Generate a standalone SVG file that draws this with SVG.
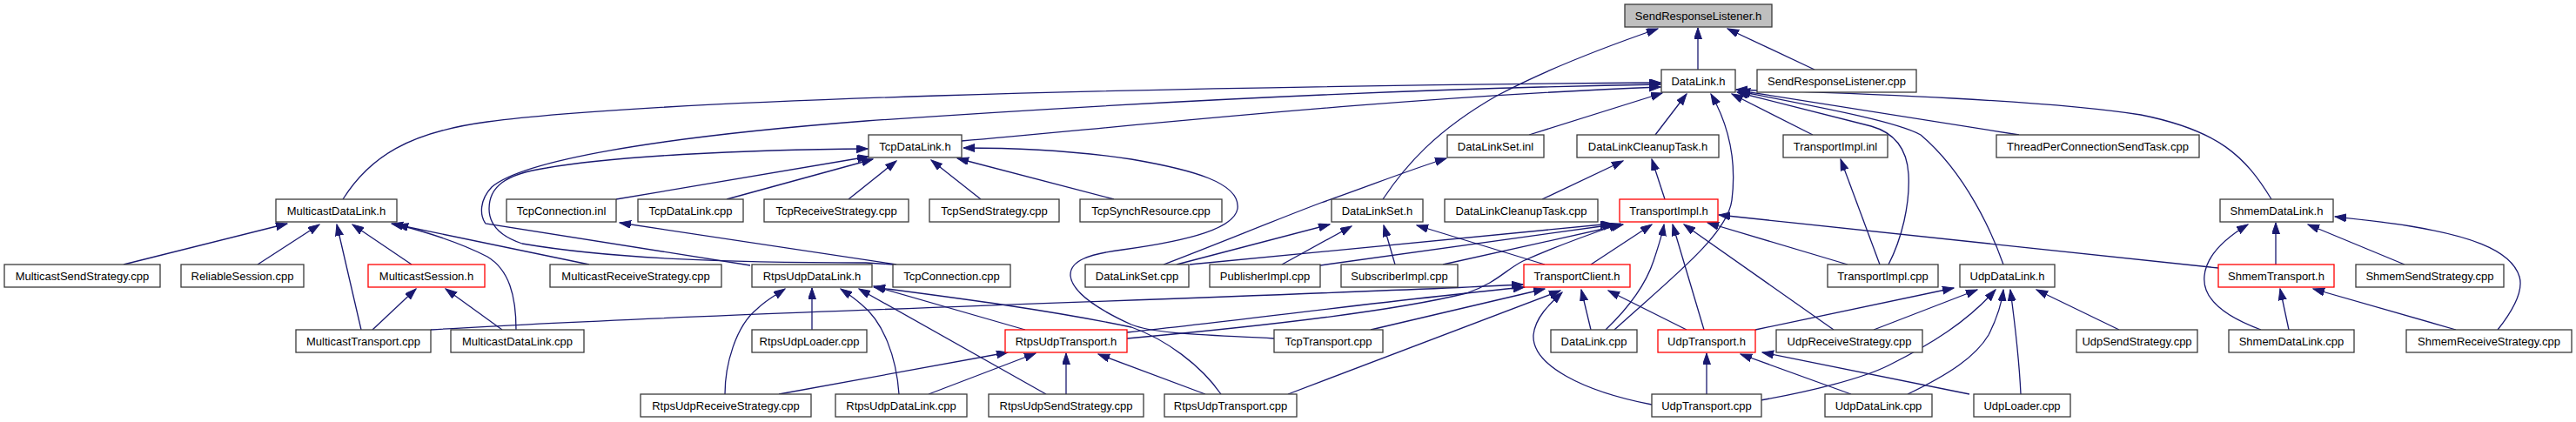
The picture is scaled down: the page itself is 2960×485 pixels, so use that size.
<svg xmlns="http://www.w3.org/2000/svg" width="2960" height="485" viewBox="0 0 2960 485">
<style>
.node rect{fill:#fff;stroke:#3a3a3a;stroke-width:1.3}
.node.red rect{stroke:#ff0000}
.node.root rect{fill:#bfbfbf}
.node text{font-family:"Liberation Sans",Arial,sans-serif;font-size:13px;fill:#000;text-anchor:middle}
#edges path{fill:none;stroke:#191970;stroke-width:1.3;marker-end:url(#ah)}
</style>
<defs>
<marker id="ah" markerUnits="userSpaceOnUse" markerWidth="14" markerHeight="10" refX="13" refY="4.5" orient="auto">
<path d="M0,0 L13,4.5 L0,9 z" fill="#191970" stroke="#191970" stroke-width="1"/>
</marker>
</defs>
<rect width="2960" height="485" fill="#fff"/>
<g id="edges">
<path d="M1951,80 L1951,32"/>
<path d="M2085,80 L1985,33"/>
<path d="M1589,229 C1615,190 1650,150 1720,110 C1780,78 1850,52 1905,33"/>
<path d="M394,229 C425,180 470,152 560,140 C750,115 1300,100 1908,95"/>
<path d="M862,305 L558,257 C551,247 551,230 565,215 C600,185 750,158 995,139 C1300,118 1600,102 1908,97"/>
<path d="M1105,162 C1300,145 1600,112 1908,100"/>
<path d="M1757,155 L1910,107"/>
<path d="M1902,155 L1938,108"/>
<path d="M1855,379 C1920,320 1985,270 1990,230 C1995,190 1990,150 1966,108"/>
<path d="M2083,155 L1990,108"/>
<path d="M2170,304 C2185,275 2195,235 2193,200 C2191,168 2175,152 2150,145 L1996,106"/>
<path d="M2302,304 C2290,270 2260,200 2207,155 C2180,140 2100,125 1998,105"/>
<path d="M2320,155 L1998,104"/>
<path d="M2610,229 C2580,180 2550,150 2460,132 C2350,115 2150,108 1995,103"/>
<path d="M708,229 L998,180"/>
<path d="M1026,304 L995,302 C830,302 700,297 600,280 C570,270 562,255 562,240 C562,215 580,200 628,193 C700,180 850,172 997,171"/>
<path d="M835,229 L1003,183"/>
<path d="M975,229 L1030,185"/>
<path d="M1127,229 L1070,184"/>
<path d="M1280,229 L1100,182"/>
<path d="M1464,389 C1400,385 1330,385 1300,373 C1260,355 1232,335 1230,317 C1229,300 1250,292 1290,287 C1370,276 1418,262 1422,240 C1426,210 1370,195 1300,183 C1240,174 1170,170 1107,170"/>
<path d="M1030,304 L712,256"/>
<path d="M142,304 L330,257"/>
<path d="M296,304 L367,258"/>
<path d="M415,379 L387,258"/>
<path d="M473,304 L405,258"/>
<path d="M677,304 L450,257"/>
<path d="M593,379 C593,340 585,310 560,295 C535,282 495,268 456,258"/>
<path d="M428,379 L478,332"/>
<path d="M577,379 L512,332"/>
<path d="M495,379 C800,360 1500,340 1750,327"/>
<path d="M833,453 C833,420 845,375 870,355 C880,345 890,340 902,332"/>
<path d="M933,379 L933,331"/>
<path d="M1033,453 C1030,410 1015,370 990,350 C982,343 975,338 966,332"/>
<path d="M1202,453 L987,332"/>
<path d="M1178,379 L1004,329"/>
<path d="M1403,453 C1380,420 1340,390 1300,376 C1200,355 1080,340 1004,330"/>
<path d="M895,453 L1158,405"/>
<path d="M1067,453 L1190,406"/>
<path d="M1225,453 L1225,406"/>
<path d="M1385,453 L1262,407"/>
<path d="M1295,382 C1450,365 1600,345 1752,330"/>
<path d="M1295,389 C1450,375 1600,358 1685,337 C1720,325 1730,310 1750,300 C1790,282 1830,268 1862,257"/>
<path d="M1575,379 L1775,332"/>
<path d="M1480,453 L1793,334"/>
<path d="M1775,304 L1628,259"/>
<path d="M1828,304 L1898,258"/>
<path d="M1828,379 L1817,333"/>
<path d="M1898,465 C1820,450 1760,420 1762,385 C1764,365 1780,350 1795,336"/>
<path d="M1938,379 L1848,334"/>
<path d="M1352,304 L1528,258"/>
<path d="M1473,304 L1553,260"/>
<path d="M1603,304 L1590,259"/>
<path d="M1337,304 C1400,280 1460,255 1518,233 C1570,215 1620,195 1662,182"/>
<path d="M1367,304 L1852,257"/>
<path d="M1517,305 L1855,258"/>
<path d="M1658,304 L1865,258"/>
<path d="M1845,379 C1870,355 1890,330 1900,300 C1905,285 1910,270 1912,258"/>
<path d="M1958,379 L1922,258"/>
<path d="M2107,379 L1935,258"/>
<path d="M2123,304 L1962,256"/>
<path d="M2549,308 L1975,247"/>
<path d="M1913,229 L1898,183"/>
<path d="M1772,229 L1865,185"/>
<path d="M2160,304 L2115,183"/>
<path d="M2017,379 L2245,331"/>
<path d="M2153,379 L2272,333"/>
<path d="M2023,460 C2080,450 2140,435 2170,420 C2220,395 2260,370 2293,333"/>
<path d="M2192,453 C2240,430 2270,410 2285,385 C2295,365 2300,350 2302,333"/>
<path d="M2322,453 C2320,410 2315,370 2310,333"/>
<path d="M2435,379 L2340,333"/>
<path d="M1961,453 L1961,406"/>
<path d="M2127,453 L2000,407"/>
<path d="M2263,453 L2025,405"/>
<path d="M2615,304 L2615,256"/>
<path d="M2598,379 C2560,365 2530,345 2533,317 C2535,295 2555,275 2583,258"/>
<path d="M2763,304 L2652,258"/>
<path d="M2870,379 C2885,360 2900,335 2895,318 C2885,285 2830,270 2770,260 C2740,255 2710,252 2683,249"/>
<path d="M2630,379 L2620,332"/>
<path d="M2822,379 L2658,332"/>
</g>
<g id="n1" class="node root"><rect x="1867" y="5" width="169" height="26"/><text x="1951.5" y="22.5">SendResponseListener.h</text></g>
<g id="n2" class="node"><rect x="1909" y="80" width="85" height="26"/><text x="1951.5" y="97.5">DataLink.h</text></g>
<g id="n3" class="node"><rect x="2019" y="80" width="183" height="26"/><text x="2110.5" y="97.5">SendResponseListener.cpp</text></g>
<g id="n4" class="node"><rect x="998" y="155" width="107" height="26"/><text x="1051.5" y="172.5">TcpDataLink.h</text></g>
<g id="n5" class="node"><rect x="1663" y="155" width="111" height="26"/><text x="1718.5" y="172.5">DataLinkSet.inl</text></g>
<g id="n6" class="node"><rect x="1812" y="155" width="163" height="26"/><text x="1893.5" y="172.5">DataLinkCleanupTask.h</text></g>
<g id="n7" class="node"><rect x="2049" y="155" width="120" height="26"/><text x="2109" y="172.5">TransportImpl.inl</text></g>
<g id="n8" class="node"><rect x="2294" y="155" width="233" height="26"/><text x="2410.5" y="172.5">ThreadPerConnectionSendTask.cpp</text></g>
<g id="n9" class="node"><rect x="317" y="229" width="139" height="26"/><text x="386.5" y="246.5">MulticastDataLink.h</text></g>
<g id="n10" class="node"><rect x="582" y="229" width="126" height="26"/><text x="645" y="246.5">TcpConnection.inl</text></g>
<g id="n11" class="node"><rect x="733" y="229" width="121" height="26"/><text x="793.5" y="246.5">TcpDataLink.cpp</text></g>
<g id="n12" class="node"><rect x="878" y="229" width="166" height="26"/><text x="961" y="246.5">TcpReceiveStrategy.cpp</text></g>
<g id="n13" class="node"><rect x="1068" y="229" width="149" height="26"/><text x="1142.5" y="246.5">TcpSendStrategy.cpp</text></g>
<g id="n14" class="node"><rect x="1241" y="229" width="163" height="26"/><text x="1322.5" y="246.5">TcpSynchResource.cpp</text></g>
<g id="n15" class="node"><rect x="1530" y="229" width="105" height="26"/><text x="1582.5" y="246.5">DataLinkSet.h</text></g>
<g id="n16" class="node"><rect x="1660" y="229" width="176" height="26"/><text x="1748" y="246.5">DataLinkCleanupTask.cpp</text></g>
<g id="n17" class="node red"><rect x="1861" y="229" width="113" height="26"/><text x="1917.5" y="246.5">TransportImpl.h</text></g>
<g id="n18" class="node"><rect x="2551" y="229" width="130" height="26"/><text x="2616" y="246.5">ShmemDataLink.h</text></g>
<g id="n19" class="node"><rect x="5" y="304" width="179" height="26"/><text x="94.5" y="321.5">MulticastSendStrategy.cpp</text></g>
<g id="n20" class="node"><rect x="208" y="304" width="141" height="26"/><text x="278.5" y="321.5">ReliableSession.cpp</text></g>
<g id="n21" class="node red"><rect x="423" y="304" width="134" height="26"/><text x="490" y="321.5">MulticastSession.h</text></g>
<g id="n22" class="node"><rect x="632" y="304" width="197" height="26"/><text x="730.5" y="321.5">MulticastReceiveStrategy.cpp</text></g>
<g id="n23" class="node"><rect x="864" y="304" width="138" height="26"/><text x="933" y="321.5">RtpsUdpDataLink.h</text></g>
<g id="n24" class="node"><rect x="1026" y="304" width="135" height="26"/><text x="1093.5" y="321.5">TcpConnection.cpp</text></g>
<g id="n25" class="node"><rect x="1247" y="304" width="119" height="26"/><text x="1306.5" y="321.5">DataLinkSet.cpp</text></g>
<g id="n26" class="node"><rect x="1390" y="304" width="127" height="26"/><text x="1453.5" y="321.5">PublisherImpl.cpp</text></g>
<g id="n27" class="node"><rect x="1541" y="304" width="134" height="26"/><text x="1608" y="321.5">SubscriberImpl.cpp</text></g>
<g id="n28" class="node red"><rect x="1751" y="304" width="122" height="26"/><text x="1812" y="321.5">TransportClient.h</text></g>
<g id="n29" class="node"><rect x="2100" y="304" width="127" height="26"/><text x="2163.5" y="321.5">TransportImpl.cpp</text></g>
<g id="n30" class="node"><rect x="2252" y="304" width="109" height="26"/><text x="2306.5" y="321.5">UdpDataLink.h</text></g>
<g id="n31" class="node red"><rect x="2549" y="304" width="133" height="26"/><text x="2615.5" y="321.5">ShmemTransport.h</text></g>
<g id="n32" class="node"><rect x="2707" y="304" width="170" height="26"/><text x="2792" y="321.5">ShmemSendStrategy.cpp</text></g>
<g id="n33" class="node"><rect x="340" y="379" width="155" height="26"/><text x="417.5" y="396.5">MulticastTransport.cpp</text></g>
<g id="n34" class="node"><rect x="518" y="379" width="153" height="26"/><text x="594.5" y="396.5">MulticastDataLink.cpp</text></g>
<g id="n35" class="node"><rect x="864" y="379" width="132" height="26"/><text x="930" y="396.5">RtpsUdpLoader.cpp</text></g>
<g id="n36" class="node red"><rect x="1155" y="379" width="140" height="26"/><text x="1225" y="396.5">RtpsUdpTransport.h</text></g>
<g id="n37" class="node"><rect x="1464" y="379" width="125" height="26"/><text x="1526.5" y="396.5">TcpTransport.cpp</text></g>
<g id="n38" class="node"><rect x="1782" y="379" width="99" height="26"/><text x="1831.5" y="396.5">DataLink.cpp</text></g>
<g id="n39" class="node red"><rect x="1905" y="379" width="112" height="26"/><text x="1961" y="396.5">UdpTransport.h</text></g>
<g id="n40" class="node"><rect x="2041" y="379" width="168" height="26"/><text x="2125" y="396.5">UdpReceiveStrategy.cpp</text></g>
<g id="n41" class="node"><rect x="2386" y="379" width="139" height="26"/><text x="2455.5" y="396.5">UdpSendStrategy.cpp</text></g>
<g id="n42" class="node"><rect x="2561" y="379" width="144" height="26"/><text x="2633" y="396.5">ShmemDataLink.cpp</text></g>
<g id="n43" class="node"><rect x="2765" y="379" width="190" height="26"/><text x="2860" y="396.5">ShmemReceiveStrategy.cpp</text></g>
<g id="n44" class="node"><rect x="736" y="453" width="196" height="26"/><text x="834" y="470.5">RtpsUdpReceiveStrategy.cpp</text></g>
<g id="n45" class="node"><rect x="960" y="453" width="151" height="26"/><text x="1035.5" y="470.5">RtpsUdpDataLink.cpp</text></g>
<g id="n46" class="node"><rect x="1136" y="453" width="178" height="26"/><text x="1225" y="470.5">RtpsUdpSendStrategy.cpp</text></g>
<g id="n47" class="node"><rect x="1338" y="453" width="152" height="26"/><text x="1414" y="470.5">RtpsUdpTransport.cpp</text></g>
<g id="n48" class="node"><rect x="1898" y="453" width="126" height="26"/><text x="1961" y="470.5">UdpTransport.cpp</text></g>
<g id="n49" class="node"><rect x="2097" y="453" width="123" height="26"/><text x="2158.5" y="470.5">UdpDataLink.cpp</text></g>
<g id="n50" class="node"><rect x="2268" y="453" width="111" height="26"/><text x="2323.5" y="470.5">UdpLoader.cpp</text></g>
</svg>
